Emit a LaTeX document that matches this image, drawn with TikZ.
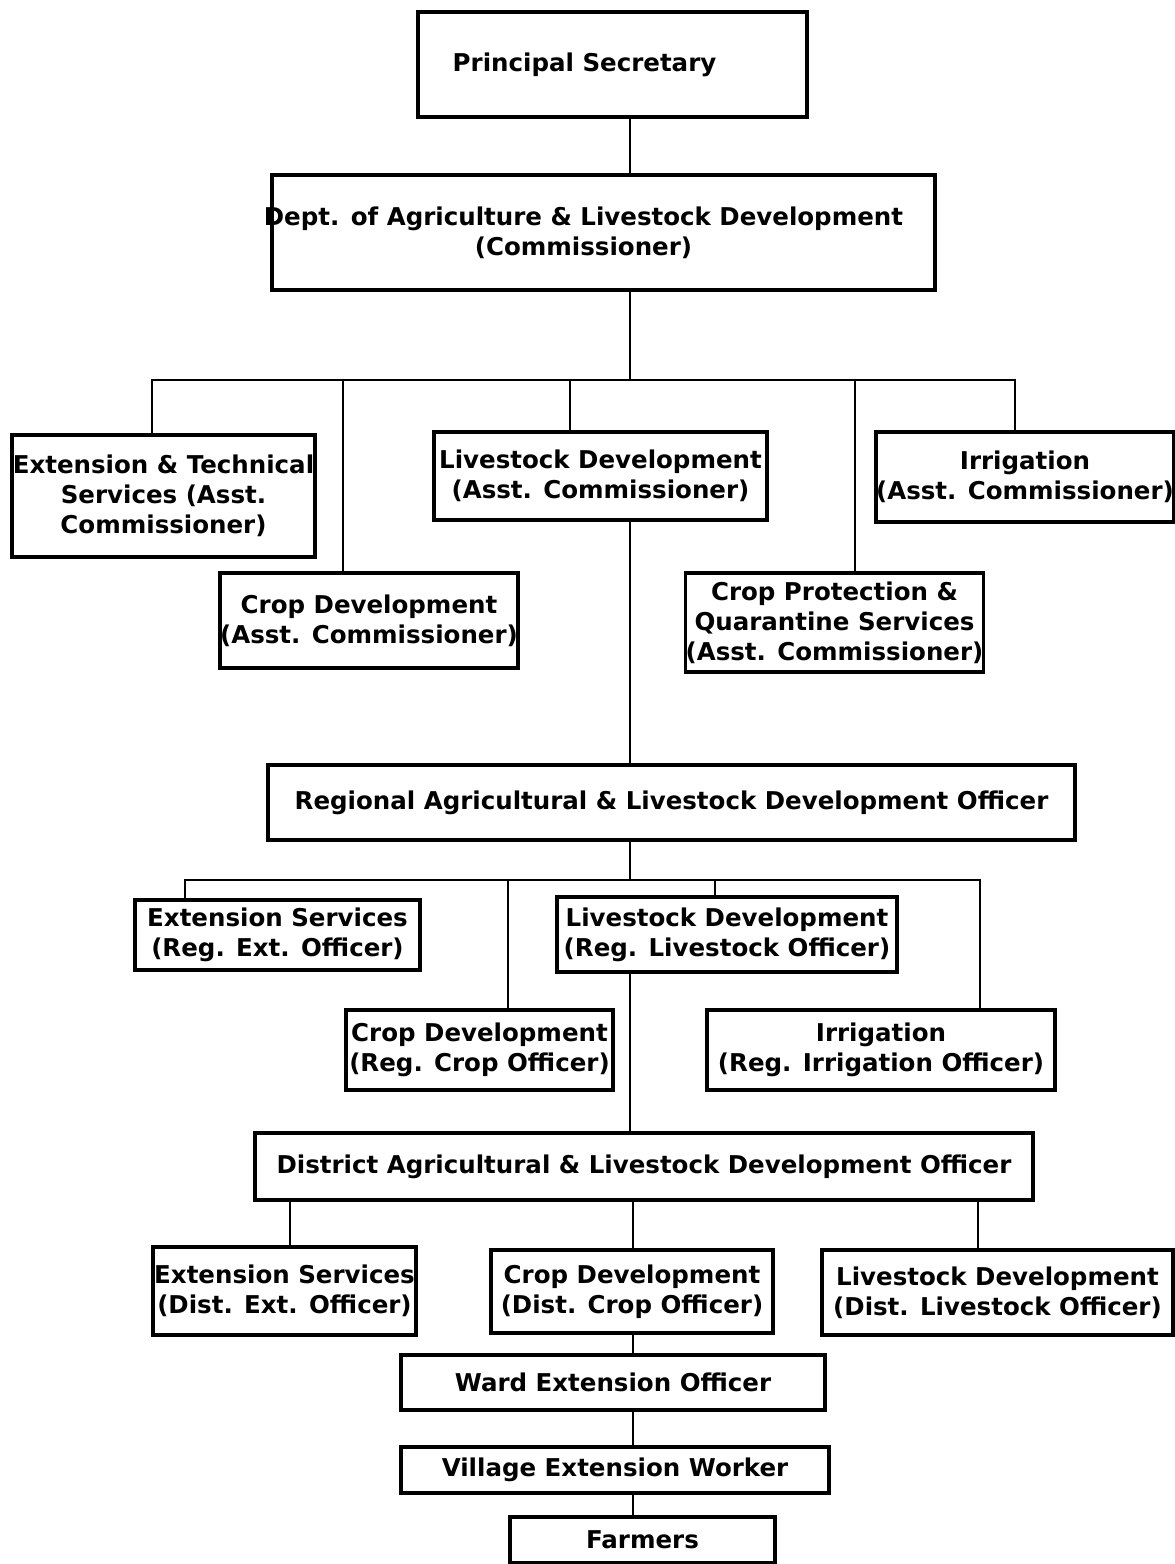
\documentclass[tikz,border=0pt]{standalone}
\usepackage{fontspec}
\setmainfont{DejaVu Sans}
\begin{document}
\begin{tikzpicture}[x=1pt,y=-1pt,
  box/.style={draw,line width=3.4pt,rectangle,inner sep=0pt,align=center,
    font=\bfseries\fontsize{24.5}{30}\selectfont},
  link/.style={line width=2.8pt,line cap=rect}]
\useasboundingbox[fill=white] (0,0) rectangle (1175,1564);
% level 0-1
\node[box,minimum width=389pt,minimum height=105pt] (ps) at (612.5,64.5) {\hspace*{-56pt}Principal Secretary};
\node[box,minimum width=663pt,minimum height=115pt] (dept) at (603.5,232.5) {\hspace*{-40pt}Dept. of Agriculture \& Livestock Development\\\hspace*{-40pt}(Commissioner)};
% level 2
\node[box,minimum width=303pt,minimum height=122pt] (ets) at (163.5,496) {Extension \& Technical\\Services (Asst.\\Commissioner)};
\node[box,minimum width=286pt,minimum height=95pt] (cd1) at (369,620.5) {Crop Development\\(Asst. Commissioner)};
\node[box,minimum width=333pt,minimum height=88pt] (ld1) at (600.5,476) {Livestock Development\\(Asst. Commissioner)};
\node[box,minimum width=286pt,minimum height=90pt] (irr1) at (1025,477) {Irrigation\\(Asst. Commissioner)};
\node[box,minimum width=295pt,minimum height=99pt] (cpq) at (834.5,622.5) {Crop Protection \&\\Quarantine Services\\(Asst. Commissioner)};
% regional
\node[box,minimum width=807pt,minimum height=75pt] (reg) at (671.5,802.5) {Regional Agricultural \& Livestock Development Officer};
\node[box,minimum width=285pt,minimum height=70pt] (es2) at (277.5,935) {Extension Services\\(Reg. Ext. Officer)};
\node[box,minimum width=340pt,minimum height=75pt] (ld2) at (727,934.5) {Livestock Development\\(Reg. Livestock Officer)};
\node[box,minimum width=267pt,minimum height=80pt] (cd2) at (479.5,1050) {Crop Development\\(Reg. Crop Officer)};
\node[box,minimum width=348pt,minimum height=80pt] (irr2) at (881,1050) {Irrigation\\(Reg. Irrigation Officer)};
% district
\node[box,minimum width=778pt,minimum height=67pt] (dist) at (644,1166.5) {District Agricultural \& Livestock Development Officer};
\node[box,minimum width=263pt,minimum height=88pt] (es3) at (284.5,1291) {Extension Services\\(Dist. Ext. Officer)};
\node[box,minimum width=282pt,minimum height=83pt] (cd3) at (632,1291.5) {Crop Development\\(Dist. Crop Officer)};
\node[box,minimum width=351pt,minimum height=85pt] (ld3) at (997.5,1292.5) {Livestock Development\\(Dist. Livestock Officer)};
\node[box,minimum width=424pt,minimum height=55pt] (ward) at (613,1382.5) {Ward Extension Officer};
\node[box,minimum width=428pt,minimum height=46pt] (vil) at (615,1470) {Village Extension Worker};
\node[box,minimum width=265pt,minimum height=46pt] (farm) at (642.5,1540) {Farmers};
% bus coordinates
\coordinate (b1) at (630,380);
\coordinate (b1L) at (152,380);
\coordinate (b1R) at (1015,380);
\coordinate (b1c) at (343,380);
\coordinate (b1l) at (570,380);
\coordinate (b1p) at (855,380);
\coordinate (b2) at (630,880);
\coordinate (b2L) at (185,880);
\coordinate (b2R) at (980,880);
\coordinate (b2c) at (508,880);
\coordinate (b2l) at (715,880);
\coordinate (d1) at (290,0);
\coordinate (d2) at (633,0);
\coordinate (d3) at (978,0);
% connectors
\draw[link] (ps.south -| b1) -- (dept.north -| b1);
\draw[link] (dept.south -| b1) -- (b1);
\draw[link] (b1L) -- (b1R);
\draw[link] (b1L) -- (b1L |- ets.north);
\draw[link] (b1c) -- (b1c |- cd1.north);
\draw[link] (b1l) -- (b1l |- ld1.north);
\draw[link] (b1p) -- (b1p |- cpq.north);
\draw[link] (b1R) -- (b1R |- irr1.north);
\draw[link] (ld1.south -| b1) -- (reg.north -| b1);
\draw[link] (reg.south -| b2) -- (b2);
\draw[link] (b2L) -- (b2R);
\draw[link] (b2L) -- (b2L |- es2.north);
\draw[link] (b2c) -- (b2c |- cd2.north);
\draw[link] (b2l) -- (b2l |- ld2.north);
\draw[link] (b2R) -- (b2R |- irr2.north);
\draw[link] (ld2.south -| b2) -- (dist.north -| b2);
\draw[link] (dist.south -| d1) -- (es3.north -| d1);
\draw[link] (dist.south -| d2) -- (cd3.north -| d2);
\draw[link] (dist.south -| d3) -- (ld3.north -| d3);
\draw[link] (cd3.south -| d2) -- (ward.north -| d2);
\draw[link] (ward.south -| d2) -- (vil.north -| d2);
\draw[link] (vil.south -| d2) -- (farm.north -| d2);
\end{tikzpicture}
\end{document}
